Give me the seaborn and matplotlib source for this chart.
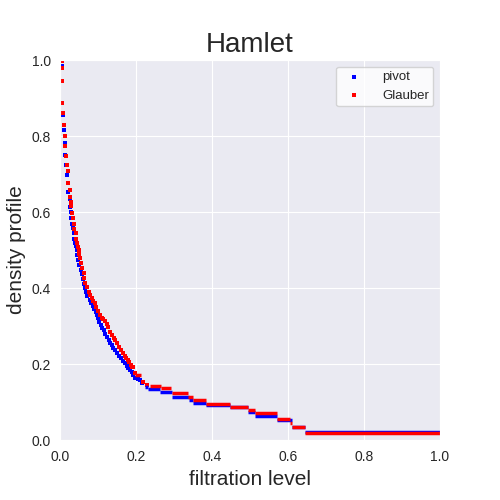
import matplotlib
matplotlib.use('Agg')
import matplotlib.pyplot as plt
import seaborn as sns

# points in the steep part of the curve
pivot_x = [0.0045, 0.006, 0.006, 0.0087, 0.011, 0.014, 0.014, 0.0166, 0.019, 0.022,
           0.022, 0.025, 0.027, 0.030, 0.030, 0.032, 0.035, 0.038, 0.038, 0.040,
           0.043, 0.045, 0.046, 0.048, 0.051, 0.055, 0.058, 0.061, 0.064, 0.066,
           0.069, 0.072, 0.078, 0.082, 0.087, 0.090, 0.094, 0.097, 0.100, 0.103,
           0.107, 0.111, 0.115, 0.119, 0.124, 0.128, 0.132, 0.136, 0.140, 0.145,
           0.150, 0.155, 0.160, 0.165, 0.170, 0.175, 0.180, 0.185, 0.189, 0.192,
           0.197, 0.204, 0.210, 0.216]
pivot_y = [0.985, 0.945, 0.886, 0.854, 0.815, 0.781, 0.750, 0.723, 0.697, 0.677,
           0.652, 0.633, 0.613, 0.599, 0.583, 0.568, 0.557, 0.544, 0.529, 0.518,
           0.510, 0.499, 0.487, 0.474, 0.460, 0.447, 0.436, 0.424, 0.410, 0.400,
           0.390, 0.380, 0.368, 0.360, 0.353, 0.345, 0.336, 0.328, 0.320, 0.311,
           0.303, 0.295, 0.289, 0.280, 0.272, 0.262, 0.255, 0.250, 0.243, 0.236,
           0.228, 0.222, 0.215, 0.209, 0.202, 0.196, 0.190, 0.184, 0.178, 0.170,
           0.162, 0.160, 0.157, 0.150]

glauber_x = [0.0045, 0.0045, 0.006, 0.006, 0.0087, 0.011, 0.014, 0.014, 0.0166, 0.019,
             0.022, 0.022, 0.025, 0.027, 0.030, 0.030, 0.032, 0.035, 0.038, 0.038,
             0.041, 0.043, 0.046, 0.048, 0.050, 0.051, 0.053, 0.054, 0.058, 0.062,
             0.064, 0.067, 0.072, 0.075, 0.078, 0.083, 0.087, 0.092, 0.096, 0.101,
             0.106, 0.110, 0.114, 0.118, 0.123, 0.127, 0.132, 0.137, 0.141, 0.145,
             0.150, 0.155, 0.160, 0.166, 0.170, 0.174, 0.178, 0.182, 0.186, 0.190,
             0.193, 0.197, 0.219, 0.228]
glauber_y = [0.997, 0.978, 0.945, 0.886, 0.860, 0.828, 0.799, 0.774, 0.747, 0.723,
             0.707, 0.677, 0.657, 0.639, 0.626, 0.615, 0.597, 0.583, 0.568, 0.555,
             0.544, 0.529, 0.518, 0.507, 0.499, 0.489, 0.478, 0.465, 0.452, 0.439,
             0.426, 0.413, 0.403, 0.390, 0.382, 0.373, 0.365, 0.360, 0.351, 0.340,
             0.328, 0.320, 0.318, 0.314, 0.305, 0.297, 0.285, 0.276, 0.268, 0.263,
             0.254, 0.246, 0.238, 0.228, 0.222, 0.215, 0.210, 0.204, 0.197, 0.193,
             0.191, 0.176, 0.153, 0.145]

# flat stretches of the profile: start level, end level, value
pivot_step_start = [0.224, 0.232, 0.263, 0.295, 0.340, 0.350, 0.384, 0.447, 0.495, 0.513, 0.570, 0.610, 0.645]
pivot_step_end = [0.232, 0.263, 0.295, 0.340, 0.350, 0.384, 0.447, 0.495, 0.513, 0.570, 0.610, 0.645, 1.000]
pivot_step_y = [0.140, 0.133, 0.127, 0.114, 0.105, 0.098, 0.093, 0.086, 0.075, 0.062, 0.053, 0.034, 0.022]

glauber_step_start = [0.197, 0.237, 0.266, 0.295, 0.336, 0.350, 0.384, 0.447, 0.495, 0.513, 0.570, 0.606, 0.611, 0.645]
glauber_step_end = [0.212, 0.266, 0.292, 0.336, 0.350, 0.384, 0.447, 0.495, 0.513, 0.570, 0.606, 0.611, 0.645, 1.000]
glauber_step_y = [0.171, 0.142, 0.136, 0.123, 0.114, 0.104, 0.096, 0.088, 0.080, 0.071, 0.055, 0.044, 0.035, 0.019]

sns.set_style('darkgrid')
plt.rcParams['font.family'] = ['Liberation Sans', 'DejaVu Sans']

fig = plt.figure(figsize=(5, 5), dpi=100)
ax = fig.add_axes([0.12, 0.12, 0.76, 0.76])

sns.scatterplot(x=pivot_x, y=pivot_y, color='blue', marker='s', s=7, linewidth=0,
                label='pivot', ax=ax)
ax.hlines(pivot_step_y, pivot_step_start, pivot_step_end, color='blue', lw=2.5)
sns.scatterplot(x=glauber_x, y=glauber_y, color='red', marker='s', s=7, linewidth=0,
                label='Glauber', ax=ax)
ax.hlines(glauber_step_y, glauber_step_start, glauber_step_end, color='red', lw=2.5)

ax.set_xlim(0, 1)
ax.set_ylim(0, 1)
ax.set_xticks([0.0, 0.2, 0.4, 0.6, 0.8, 1.0])
ax.set_yticks([0.0, 0.2, 0.4, 0.6, 0.8, 1.0])
ax.tick_params(labelsize=10, colors='#262626')
ax.tick_params(axis='x', pad=4)
ax.tick_params(axis='y', pad=3)
ax.set_title('Hamlet', fontsize=20, color='#262626', pad=6)
ax.set_xlabel('filtration level', fontsize=15, color='#262626')
ax.set_ylabel('density profile', fontsize=15, color='#262626')

leg = ax.legend(loc='upper right', fontsize=9.5, frameon=True, scatterpoints=1,
                handletextpad=1.1, borderpad=0.35, labelspacing=0.45)
leg.get_frame().set_facecolor('white')
leg.get_frame().set_alpha(0.8)
leg.get_frame().set_edgecolor('#cccccc')

fig.savefig('out.png', dpi=100)
